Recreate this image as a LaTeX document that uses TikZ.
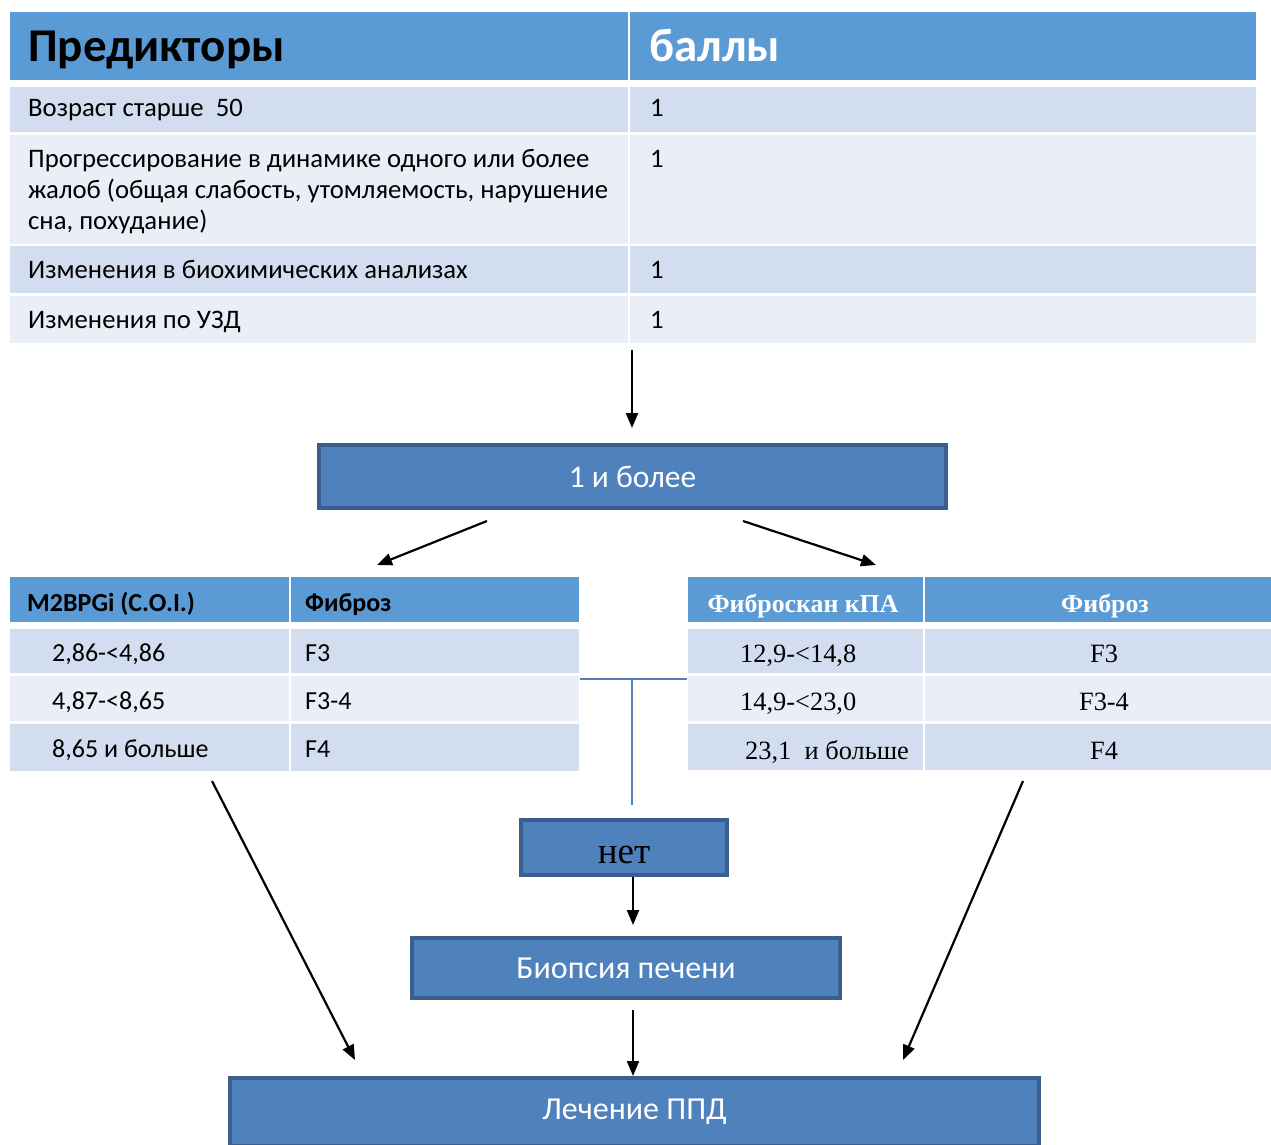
\documentclass[tikz,border=0pt]{standalone}
\usepackage{fontspec}
\setmainfont{Carlito}
\newfontfamily\tnr{Liberation Serif}
\usetikzlibrary{arrows.meta}
\definecolor{hdrblue}{HTML}{5B9BD5}
\definecolor{rowdark}{HTML}{D2DEEF}
\definecolor{rowlight}{HTML}{EAEFF7}
\definecolor{boxfill}{HTML}{4F81BD}
\definecolor{boxborder}{HTML}{3A5F8E}
\definecolor{linkblue}{HTML}{4F81BD}
\tikzset{
  cellbase/.style={inner sep=0pt, outer sep=0pt, anchor=north west, draw=none},
  hcell/.style={cellbase, fill=hdrblue},
  dcell/.style={cellbase, fill=rowdark},
  lcell/.style={cellbase, fill=rowlight},
  toptxt/.style={anchor=base west, inner sep=0pt, font=\fontsize{26.7}{31}\selectfont},
  tophdr/.style={anchor=base west, inner sep=0pt, font=\fontsize{47}{52}\selectfont\bfseries},
  ltxt/.style={anchor=base west, inner sep=0pt, font=\fontsize{26}{30}\selectfont},
  rtxt/.style={anchor=base, inner sep=0pt, font=\tnr\fontsize{26.4}{30}\selectfont},
  flowbox/.style={fill=boxfill, draw=boxborder, line width=4pt, inner sep=0pt, text=white},
  arr/.style={-{Triangle[length=15pt,width=12pt]}, line width=2.2pt, black},
  link/.style={line width=1.5pt, linkblue}
}
\begin{document}
\begin{tikzpicture}[x=1pt,y=-1pt]
\useasboundingbox[fill=white] (0,0) rectangle (1271,1145);

% ---------- top table ----------
\node[hcell, minimum width=618, minimum height=68] (h1) at (10,12) {};
\node[hcell, minimum width=626, minimum height=68] (h2) at (630,12) {};
\node[dcell, minimum width=618, minimum height=45] (r1a) at (10,87) {};
\node[dcell, minimum width=626, minimum height=45] (r1b) at (630,87) {};
\node[lcell, minimum width=618, minimum height=109] (r2a) at (10,135) {};
\node[lcell, minimum width=626, minimum height=109] (r2b) at (630,135) {};
\node[dcell, minimum width=618, minimum height=47] (r3a) at (10,246) {};
\node[dcell, minimum width=626, minimum height=47] (r3b) at (630,246) {};
\node[lcell, minimum width=618, minimum height=47] (r4a) at (10,296) {};
\node[lcell, minimum width=626, minimum height=47] (r4b) at (630,296) {};

\node[tophdr] (t1) at (28,62) {Предикторы};
\node[tophdr, text=white] (t2) at (649,62) {баллы};
\node[toptxt] (t3) at (28,117) {Возраст старше\ \ 50};
\node[toptxt] (t4) at (650,117) {1};
\node[toptxt] (t5) at (28,167) {Прогрессирование в динамике одного или более};
\node[toptxt] (t5b) at (28,198) {жалоб (общая слабость, утомляемость, нарушение};
\node[toptxt] (t5c) at (28,229) {сна, похудание)};
\node[toptxt] (t6) at (650,167) {1};
\node[toptxt] (t7) at (28,278) {Изменения в биохимических анализах};
\node[toptxt] (t8) at (650,278) {1};
\node[toptxt] (t9) at (28,328) {Изменения по УЗД};
\node[toptxt] (t10) at (650,328) {1};

% ---------- box 1 ----------
\node[flowbox, minimum width=627, minimum height=63, font=\fontsize{31.5}{36}\selectfont] (box1) at (632.5,476.5) {1 и более};

% ---------- left table ----------
\node[hcell, minimum width=279, minimum height=45] (L0a) at (10,577) {};
\node[hcell, minimum width=288, minimum height=45] (L0b) at (291,577) {};
\node[dcell, minimum width=279, minimum height=44] (L1a) at (10,629) {};
\node[dcell, minimum width=288, minimum height=44] (L1b) at (291,629) {};
\node[lcell, minimum width=279, minimum height=45] (L2a) at (10,676) {};
\node[lcell, minimum width=288, minimum height=45] (L2b) at (291,676) {};
\node[dcell, minimum width=279, minimum height=47] (L3a) at (10,724) {};
\node[dcell, minimum width=288, minimum height=47] (L3b) at (291,724) {};

\node[ltxt, font=\fontsize{26}{30}\selectfont\bfseries] (lh1) at (27,611) {M2BPGi (C.O.I.)};
\node[ltxt, font=\fontsize{26}{30}\selectfont\bfseries] (lh2) at (305,611) {Фиброз};
\node[ltxt] (l1a) at (52,661) {2,86-<4,86};
\node[ltxt] (l1b) at (305,661) {F3};
\node[ltxt] (l2a) at (52,709) {4,87-<8,65};
\node[ltxt] (l2b) at (305,709) {F3-4};
\node[ltxt] (l3a) at (52,757) {8,65 и больше};
\node[ltxt] (l3b) at (305,757) {F4};

% ---------- right table ----------
\node[hcell, minimum width=235, minimum height=45] (R0a) at (688,577) {};
\node[hcell, minimum width=346, minimum height=45] (R0b) at (925,577) {};
\node[dcell, minimum width=235, minimum height=44] (R1a) at (688,629) {};
\node[dcell, minimum width=346, minimum height=44] (R1b) at (925,629) {};
\node[lcell, minimum width=235, minimum height=45] (R2a) at (688,676) {};
\node[lcell, minimum width=346, minimum height=45] (R2b) at (925,676) {};
\node[dcell, minimum width=235, minimum height=46] (R3a) at (688,724) {};
\node[dcell, minimum width=346, minimum height=46] (R3b) at (925,724) {};

\node[rtxt, text=white, font=\tnr\fontsize{25.8}{30}\selectfont\bfseries] (rh1) at (803,612) {Фиброскан кПА};
\node[rtxt, text=white, font=\tnr\fontsize{25.8}{30}\selectfont\bfseries] (rh2) at (1105,612) {Фиброз};
\node[rtxt, anchor=base west] (r1l) at (740,662) {12,9-<14,8};
\node[rtxt] (r1r) at (1104,662) {F3};
\node[rtxt, anchor=base west] (r2l) at (740,710) {14,9-<23,0};
\node[rtxt] (r2r) at (1104,710) {F3-4};
\node[rtxt, anchor=base west] (r3l) at (745,759) {23,1\ \ и больше};
\node[rtxt] (r3r) at (1104,759) {F4};

% ---------- lower boxes ----------
\node[flowbox, minimum width=206, minimum height=55] (net) at (624,847.5) {};
\node[anchor=base, inner sep=0pt, font=\tnr\fontsize{37}{42}\selectfont] (netlbl) at (624,863) {нет};
\node[flowbox, minimum width=428, minimum height=60, font=\fontsize{32}{36}\selectfont] (biop) at (626,968) {Биопсия печени};
\node[flowbox, minimum width=809, minimum height=68, font=\fontsize{32}{36}\selectfont] (treat) at (634.5,1112) {Лечение ППД};

% ---------- connectors ----------
\coordinate (a1s) at (632,350);
\draw[arr, shorten >=15pt] (a1s) -- (a1s |- box1.north);
\coordinate (a2s) at (487,521);
\coordinate (a2e) at (377,565);
\coordinate (a3s) at (743,521);
\coordinate (a3e) at (876,565);
\draw[arr] (a2s) -- (a2e);
\draw[arr] (a3s) -- (a3e);

\coordinate (lk1) at (580,679);
\coordinate (lk2) at (687,679);
\coordinate (lk3) at (632,679);
\coordinate (lk4) at (632,805);
\draw[link] (lk1) -- (lk2);
\draw[link] (lk3) -- (lk4);

\coordinate (a4s) at (633,877);
\coordinate (a4e) at (633,925);
\draw[arr] (a4s) -- (a4e);
\coordinate (a5s) at (633,1010);
\draw[arr] (a5s) -- (a5s |- treat.north);

\coordinate (a6s) at (212,781);
\coordinate (a6e) at (355,1060);
\coordinate (a7s) at (1023,781);
\coordinate (a7e) at (903,1060);
\draw[arr] (a6s) -- (a6e);
\draw[arr] (a7s) -- (a7e);
\end{tikzpicture}
\end{document}
